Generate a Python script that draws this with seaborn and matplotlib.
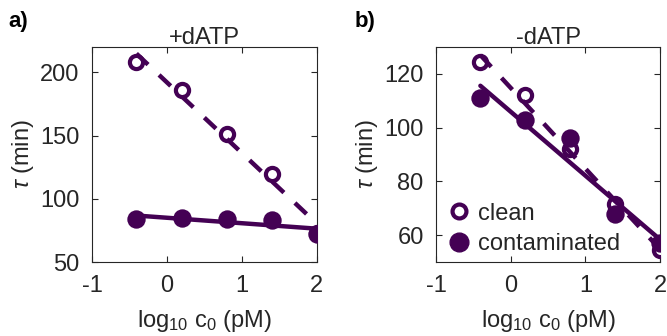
import numpy as np
import pandas as pd
import matplotlib
matplotlib.use("Agg")
import matplotlib.pyplot as plt
import seaborn as sns
from matplotlib.lines import Line2D

sns.set_theme(style="white")
plt.rcParams['font.family'] = ['Liberation Sans', 'DejaVu Sans']
plt.rcParams['mathtext.fontset'] = 'custom'
plt.rcParams['mathtext.rm'] = 'Liberation Sans'
plt.rcParams['mathtext.it'] = 'Liberation Sans:italic'

# Data
log_c0 = [-0.408, 0.194, 0.796, 1.398, 2.0]
plus_clean = [208, 186, 151, 120, 73]
plus_contam = [84, 85, 84, 83, 72]
minus_clean = [124.5, 112, 92, 71.5, 54.5]
minus_contam = [111, 103, 96, 68, 57]

panels = [
    ("a)", "+dATP", plus_clean, plus_contam, (50, 220), [50, 100, 150, 200]),
    ("b)", "-dATP", minus_clean, minus_contam, (50, 130), [60, 80, 100, 120]),
]

color = "#440154"
txtc = "#262626"
fs = 17

fig = plt.figure(figsize=(6.67, 3.36), dpi=100)
rects = [[0.138, 0.220, 0.337, 0.640], [0.654, 0.220, 0.3355, 0.640]]
label_pos = [(0.012, 0.935), (0.532, 0.935)]

for i, (lab, title, clean, contam, ylim, yticks) in enumerate(panels):
    ax = fig.add_axes(rects[i])
    x = np.array(log_c0)
    df = pd.DataFrame({"x": x, "clean": clean, "contam": contam})
    # markers
    sns.scatterplot(data=df, x="x", y="clean", ax=ax, marker="o", s=90,
                    facecolor="white", edgecolor=color, linewidth=3.0, zorder=3)
    sns.scatterplot(data=df, x="x", y="contam", ax=ax, marker="o", s=175,
                    color=color, edgecolor=color, linewidth=0, zorder=3)
    # linear fits
    for ys, ls in [(clean, (0, (3.6, 3.4))), (contam, "-")]:
        p = np.polyfit(x, ys, 1)
        fit = pd.DataFrame({"x": x, "y": np.polyval(p, x)})
        sns.lineplot(data=fit, x="x", y="y", ax=ax, color=color, lw=3.2,
                     linestyle=ls, zorder=4)
    ax.set_xlim(-1, 2)
    ax.set_ylim(*ylim)
    ax.set_xticks([-1, 0, 1, 2])
    ax.set_xticklabels(["-1", "0", "1", "2"])
    ax.set_yticks(yticks)
    ax.tick_params(direction="in", length=4, width=0.8, labelsize=fs,
                   top=True, right=True, bottom=True, left=True,
                   colors=txtc, pad=9)
    for s in ax.spines.values():
        s.set_color(txtc)
        s.set_linewidth(0.8)
        s.set_visible(True)
    ax.set_xlabel(r"log$_{10}$ c$_0$ (pM)", fontsize=fs, labelpad=8, color=txtc)
    ax.set_ylabel(r"$\tau$ (min)", fontsize=fs, labelpad=3, color=txtc)
    ax.set_title(title, fontsize=fs, pad=2, color=txtc)
    fig.text(label_pos[i][0], label_pos[i][1], lab, fontsize=fs - 1, fontweight="bold",
             va="center", ha="left", color="black")
    if i == 1:
        handles = [
            Line2D([], [], marker="o", ls="none", markersize=10, markerfacecolor="white",
                   markeredgecolor=color, markeredgewidth=3.0),
            Line2D([], [], marker="o", ls="none", markersize=13.5, markerfacecolor=color,
                   markeredgecolor=color),
        ]
        ax.legend(handles, ["clean", "contaminated"], loc="lower left",
                  bbox_to_anchor=(0.0, 0.0), frameon=False,
                  fontsize=fs, handletextpad=0.15, borderaxespad=0.0, labelspacing=0.35,
                  handlelength=1.3, borderpad=0.3, labelcolor=txtc)

fig.savefig("out.png", dpi=100)
